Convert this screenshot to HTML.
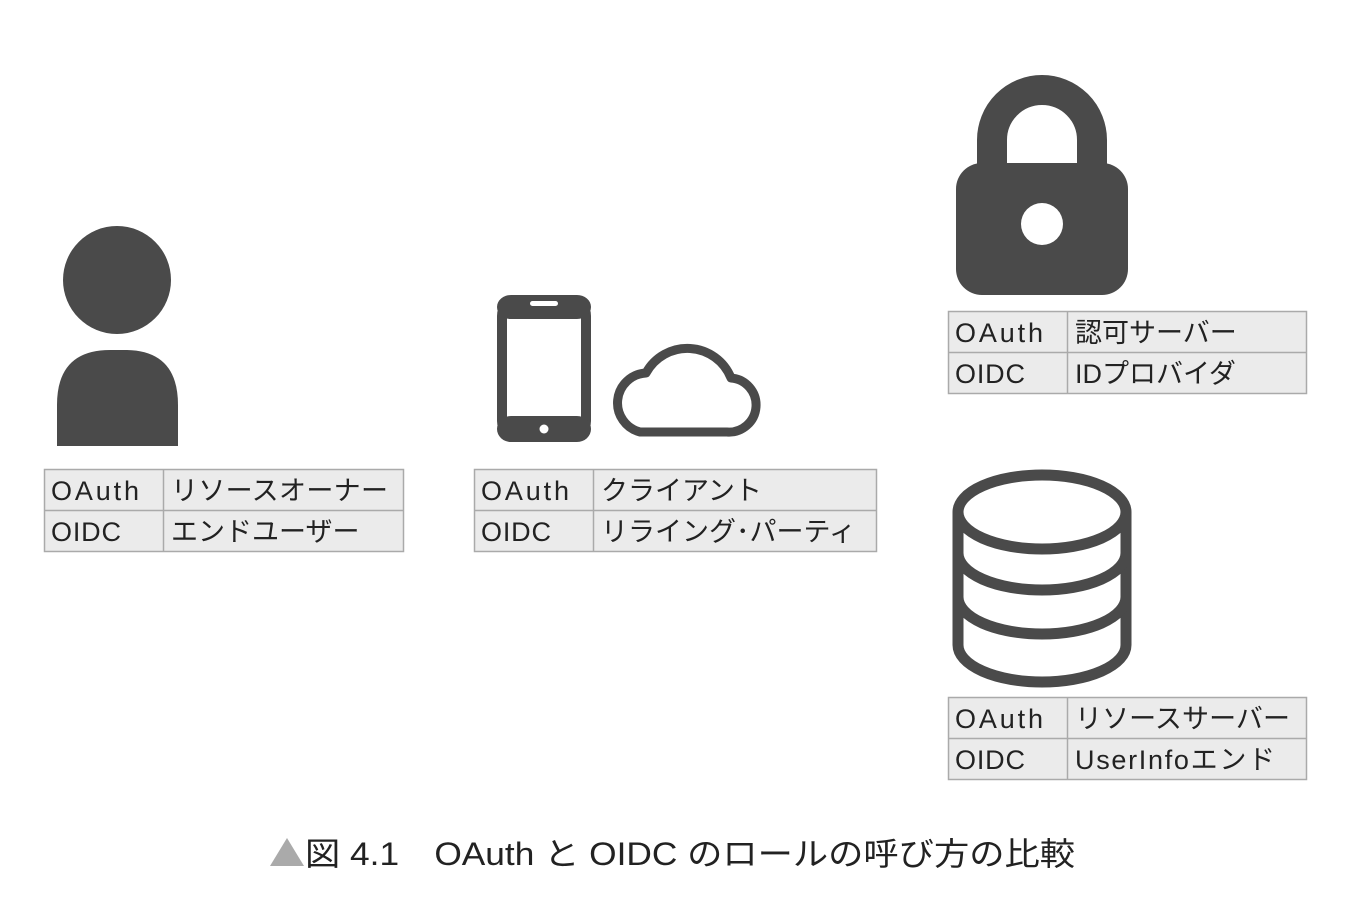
<!DOCTYPE html>
<html><head><meta charset="utf-8"><style>
body{margin:0;background:#fff;}
svg text{font-family:"Liberation Sans","Noto Sans CJK JP",sans-serif;}
</style></head><body>
<svg width="1362" height="912" viewBox="0 0 1362 912" xmlns="http://www.w3.org/2000/svg">
<g fill="#4a4a4a" stroke="none">
<circle cx="117" cy="280" r="54"/>
<path d="M57,446 V405 Q57,350 110,350 H125 Q178,350 178,405 V446 Z"/>
</g>
<!-- phone -->
<rect x="502" y="300" width="84" height="137" rx="16" fill="none" stroke="#4a4a4a" stroke-width="10"/>
<rect x="497" y="295" width="94" height="24" rx="14" fill="#4a4a4a"/>
<rect x="497" y="416" width="94" height="26" rx="14" fill="#4a4a4a"/>
<rect x="530" y="301" width="28" height="5" rx="2.5" fill="#fff"/>
<circle cx="544" cy="429" r="4.5" fill="#fff"/>
<!-- cloud -->
<path d="M640,432 H727 A27,27 0 0 0 731,378 A47,47 0 0 0 646,373 A30,30 0 0 0 640,432 Z" fill="none" stroke="#4a4a4a" stroke-width="9" stroke-linejoin="round"/>
<!-- lock -->
<path d="M992,170 V140 A50,50 0 0 1 1092,140 V170" fill="none" stroke="#4a4a4a" stroke-width="30"/>
<rect x="956" y="163" width="172" height="132" rx="26" fill="#4a4a4a"/>
<circle cx="1042" cy="224" r="21" fill="#fff"/>
<!-- database -->
<g fill="none" stroke="#4a4a4a" stroke-width="11">
<ellipse cx="1042" cy="512" rx="84" ry="37"/>
<path d="M958,512 V645 A84,37 0 0 0 1126,645 V512"/>
<path d="M958,553 A84,37 0 0 0 1126,553"/>
<path d="M958,597 A84,37 0 0 0 1126,597"/>
</g>
<!-- tables -->
<g stroke="#aaa" stroke-width="1.5" fill="#ebebeb">
<rect x="44.5" y="469.5" width="359" height="82"/>
<line x1="44" y1="510.5" x2="404" y2="510.5"/><line x1="163.5" y1="469" x2="163.5" y2="551"/>
<rect x="474.5" y="469.5" width="402" height="82"/>
<line x1="474" y1="510.5" x2="877" y2="510.5"/><line x1="593.5" y1="469" x2="593.5" y2="551"/>
<rect x="948.5" y="311.5" width="358" height="82"/>
<line x1="948" y1="352.5" x2="1307" y2="352.5"/><line x1="1067.5" y1="311" x2="1067.5" y2="393"/>
<rect x="948.5" y="697.5" width="358" height="82"/>
<line x1="948" y1="738.5" x2="1307" y2="738.5"/><line x1="1067.5" y1="697" x2="1067.5" y2="779"/>
</g>
<g fill="#222" font-size="27">
<text x="51" y="500" textLength="88">OAuth</text><text x="171" y="500" textLength="217">リソースオーナー</text>
<text x="51" y="541" textLength="70">OIDC</text><text x="171" y="541">エンドユーザー</text>
<text x="481" y="500" textLength="88">OAuth</text><text x="601" y="500">クライアント</text>
<text x="481" y="541" textLength="70">OIDC</text><text x="601" y="541">リライング･パーティ</text>
<text x="955" y="342" textLength="88">OAuth</text><text x="1075" y="342">認可サーバー</text>
<text x="955" y="383" textLength="70">OIDC</text><text x="1075" y="383">IDプロバイダ</text>
<text x="955" y="728" textLength="88">OAuth</text><text x="1075" y="728" textLength="215">リソースサーバー</text>
<text x="955" y="769" textLength="70">OIDC</text><text x="1075" y="769" textLength="200">UserInfoエンド</text>
</g>
<polygon points="270,866 287,838 304,866" fill="#aaa"/>
<text x="305" y="865" font-size="32" fill="#222" textLength="770" lengthAdjust="spacingAndGlyphs">図 4.1　OAuth と OIDC のロールの呼び方の比較</text>
</svg>
</body></html>
